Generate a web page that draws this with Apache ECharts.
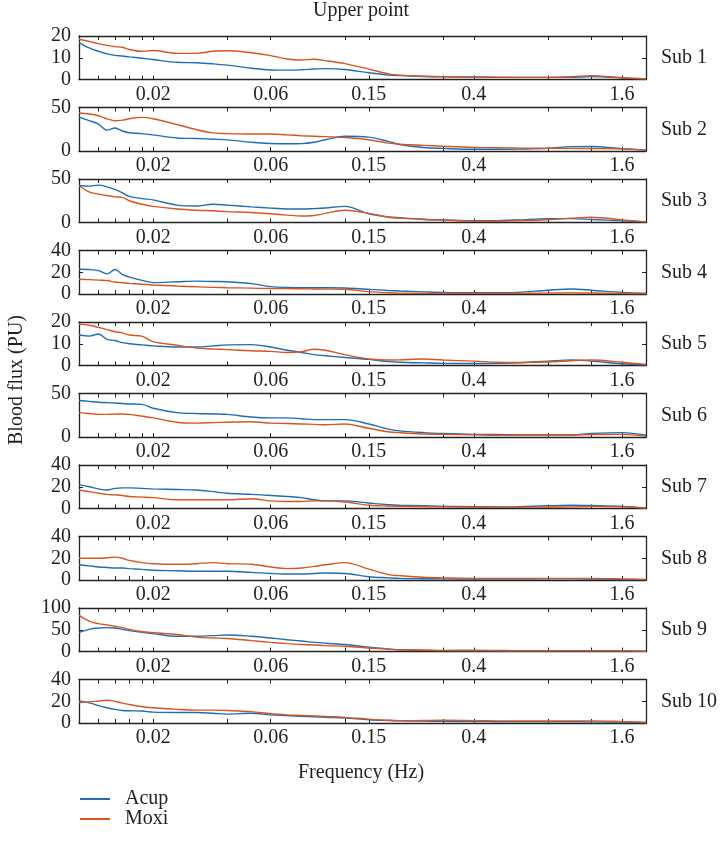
<!DOCTYPE html>
<html>
<head>
<meta charset="utf-8">
<script src="https://cdn.jsdelivr.net/npm/echarts@6/dist/echarts.min.js"></script>
<style>
html, body { margin: 0; padding: 0; background: #fff; }
#chart { width: 720px; height: 846px; }
</style>
</head>
<body>
<div id="chart"></div>
<script>
// frequency grid (Hz), shared by all subjects
var freq = [0.01, 0.011, 0.012, 0.013, 0.014, 0.015, 0.016, 0.018, 0.02, 0.025, 0.03, 0.035, 0.04, 0.05, 0.06, 0.07,
    0.08, 0.09, 0.1, 0.12, 0.15, 0.18, 0.2, 0.25, 0.3, 0.4, 0.5, 0.6, 0.8, 1.0, 1.2, 1.6, 2.0];
var majorTicks = [0.02, 0.06, 0.15, 0.4, 1.6];
var minorTicks = [0.012, 0.014, 0.016, 0.018, 0.04, 0.12, 0.3, 0.8, 1.2];
var subNames = ["Sub 1", "Sub 2", "Sub 3", "Sub 4", "Sub 5", "Sub 6", "Sub 7", "Sub 8", "Sub 9", "Sub 10"];
var yMax = [20, 50, 50, 40, 20, 50, 40, 40, 100, 40];
var yStep = [10, 50, 50, 20, 10, 50, 20, 20, 50, 20];

var acup1 = [17, 14.5, 13, 11.8, 11.1, 10.8, 10.4, 9.8, 9.2, 7.9, 7.7, 7.2, 6.6, 5.2, 4.4, 4.3, 4.5, 4.8, 5.0, 4.6, 3.1, 2.1, 1.8, 1.4, 1.2, 1.1, 1.0, 1.0, 1.0, 1.0, 1.3, 0.7, 0.3];
var moxi1 = [18.5, 17.5, 16.5, 15.7, 15.1, 14.8, 13.8, 13.0, 13.3, 12.0, 12.0, 13.0, 13.2, 12.3, 11.0, 9.4, 9.0, 9.3, 8.7, 7.3, 4.8, 2.6, 2.0, 1.5, 1.3, 1.2, 1.1, 1.0, 1.0, 1.3, 1.8, 0.8, 0.3];
var acup2 = [38.9, 35, 31, 24, 26.5, 23, 21, 20, 18.5, 15, 14.3, 13.5, 12.8, 10, 8.6, 8.3, 8.5, 10, 13, 17, 16, 11, 7.5, 4, 3, 2, 2, 2.2, 3, 5, 5.2, 2.6, 1];
var moxi2 = [43.7, 42.5, 40.5, 37, 34.8, 35.5, 37, 38.7, 37, 30.4, 24.5, 20.8, 20, 19.5, 19.6, 18.5, 17.6, 17, 16.5, 15.6, 13, 9, 7.8, 6.5, 5.5, 4.2, 3.8, 3.5, 3.2, 3, 2.8, 2.4, 1];
var acup3 = [42.6, 41.8, 43, 41, 38, 34, 30, 27.5, 26, 20, 19, 21, 20, 18, 16.5, 15.6, 15.5, 16, 16.7, 18.5, 10, 6.5, 5.5, 3.8, 3, 2, 2.2, 2.8, 4.4, 4.5, 3.5, 1.9, 0.7];
var moxi3 = [42.6, 35.2, 32.6, 31, 29.5, 28.9, 25, 21, 18.5, 15.5, 14.1, 13.5, 12.5, 11.5, 10, 8.5, 7.5, 8, 10.5, 14, 10.5, 6, 5, 3.5, 2.8, 1.6, 1.5, 2, 3.2, 5, 6, 3, 0.7];
var acup4 = [22.8, 22.5, 21.5, 18.5, 22.5, 18, 15.5, 12.5, 10.5, 11.2, 11.8, 11.5, 11.2, 9.5, 6.8, 6, 5.8, 5.8, 5.8, 5.5, 4.3, 3.2, 2.7, 2, 1.5, 1.2, 1.2, 1.5, 3.5, 4.6, 3.5, 1.5, 0.6];
var moxi4 = [13.5, 13.2, 12.8, 12.4, 11, 10.3, 9.8, 9, 8.3, 7.3, 6.6, 6.1, 5.8, 5.4, 5, 4.9, 4.8, 4.6, 4.5, 4.3, 2.2, 1.1, 0.8, 0.6, 0.6, 0.6, 0.6, 0.6, 0.8, 1.0, 0.9, 0.6, 0.4];
var acup5 = [14, 13.5, 14.5, 12, 11.5, 10.5, 10, 9.5, 9, 8.5, 8.5, 9, 9.5, 9.6, 8.5, 7, 6, 5, 4.5, 3.7, 2.8, 1.8, 1.5, 1.2, 1, 0.9, 1, 1.2, 2, 2.6, 2, 0.8, 0.3];
var moxi5 = [19, 18.5, 17.5, 16.5, 15.5, 15, 14, 13.5, 11, 9.3, 8, 7.6, 7.3, 6.8, 6.5, 6, 6.3, 7.5, 7, 5, 3, 2.5, 2.6, 3, 2.5, 2, 1.5, 1.4, 1.6, 2.2, 2.5, 1.5, 0.5];
var acup6 = [42, 41, 40, 39.5, 39, 38.5, 38, 37.5, 33, 28, 27, 26.5, 26, 23, 22, 22, 21, 20, 20, 20, 15, 9, 7, 5, 4, 3, 2.8, 2.5, 2.5, 2.5, 4, 5, 2];
var moxi6 = [28, 27, 26, 26, 26.3, 26.5, 26, 24, 22, 17, 16, 16.5, 17, 17.5, 16, 15.5, 15, 14.5, 14, 15, 10, 6, 5, 3.5, 3, 2.5, 2, 2, 2, 2, 2.8, 3, 1];
var acup7 = [22, 20, 18, 17, 18.5, 19, 19, 18.5, 18, 17.5, 17, 15.5, 14, 13, 12, 11, 10, 8, 7, 7, 5, 3.5, 3, 2.5, 2, 1.7, 1.5, 1.7, 2.5, 3, 2.7, 2, 0.5];
var moxi7 = [17, 15.5, 14, 13, 12.5, 12, 11, 10.5, 10, 8, 8, 8, 8, 9, 7, 6.5, 6.5, 7, 7, 6, 3, 2.3, 2, 1.8, 1.5, 1.2, 1, 1.1, 1.4, 1.5, 2, 1.5, 0.5];
var acup8 = [14, 13, 12, 11.5, 11, 11, 10.5, 9.8, 9, 8.5, 8, 8, 8, 7, 6, 5.5, 5.5, 6, 6.5, 6, 3, 2, 1.5, 1.2, 1, 0.8, 0.8, 0.8, 1, 1, 0.8, 0.5, 0.3];
var moxi8 = [20, 20, 20, 20.5, 21, 20, 18, 16, 15, 14.5, 15, 16, 15, 14.5, 12, 10.5, 11, 12.5, 14, 16, 10, 5, 4, 2.5, 2, 1.5, 1.5, 1.5, 1.5, 1.5, 1.5, 1, 0.5];
var acup9 = [44, 51, 54, 55, 54, 51, 48, 44, 41, 35, 35, 36.5, 38, 35, 31, 27, 24, 21, 19, 16, 10, 6, 4, 3, 2, 1.5, 1.2, 1, 1.2, 1.5, 1.3, 1, 0.5];
var moxi9 = [83, 70, 64, 61, 58, 55, 51, 46, 43, 39, 33, 31, 30, 25, 21, 18, 16, 15, 13.5, 12, 8, 5, 4, 3, 2.5, 3, 2.5, 2, 2, 2, 2, 2, 0.5];
var acup10 = [20.3, 18.5, 16, 14, 12.5, 11.5, 11.2, 11, 10, 9.7, 9.7, 9, 8.2, 9, 7.5, 6.8, 6.2, 5.8, 5.3, 4.5, 3, 2.3, 2, 1.8, 1.5, 1.3, 1.2, 1.2, 1.2, 1.2, 1, 0.8, 0.5];
var moxi10 = [18.8, 19.4, 20.2, 20.9, 20, 18.3, 17, 15, 14, 12.5, 11.8, 11.8, 11.5, 10.5, 8.5, 7.5, 7, 6.5, 6, 5.2, 3.6, 2.5, 2.2, 2.3, 2.5, 2.2, 2, 1.8, 1.8, 2, 2, 1.3, 0.5];

var acupAll = [acup1, acup2, acup3, acup4, acup5, acup6, acup7, acup8, acup9, acup10];
var moxiAll = [moxi1, moxi2, moxi3, moxi4, moxi5, moxi6, moxi7, moxi8, moxi9, moxi10];

var blue = "#1f6db5";
var orange = "#d9541e";
var axisColor = "#222";
var textColor = "#231f20";
var font = "Liberation Serif";
var fs = 20;

function lg(f) {
    return Math.log10(f);
}
function pairs(arr) {
    return freq.map(function (f, i) { return [lg(f), arr[i]]; });
}

var gridLeft = 79, gridWidth = 567, gridTop0 = 36, gridPitch = 71.5, gridHeight = 43.5;
var tickVals = majorTicks.concat(minorTicks).map(lg);
var labelVals = majorTicks.map(lg);

var grids = [], xAxes = [], yAxes = [], series = [], texts = [];
for (var i = 0; i < 10; i++) {
    var gTop = gridTop0 + i * gridPitch;
    grids.push({ left: gridLeft, width: gridWidth, top: gTop, height: gridHeight });
    // bottom x axis with labels
    xAxes.push({
        type: "value", gridIndex: i, position: "bottom", min: lg(0.01), max: lg(2),
        axisLine: { show: true, onZero: false, lineStyle: { color: axisColor, width: 1.3 } },
        axisTick: { show: true, inside: true, length: 4, customValues: tickVals, lineStyle: { color: axisColor, width: 1 } },
        axisLabel: {
            show: true, customValues: labelVals, margin: 5, color: textColor, fontFamily: font, fontSize: fs,
            formatter: function (v) { return String(Math.round(Math.pow(10, v) * 100) / 100); }
        },
        splitLine: { show: false }
    });
    // top x axis, box + mirrored ticks
    xAxes.push({
        type: "value", gridIndex: i, position: "top", min: lg(0.01), max: lg(2),
        axisLine: { show: true, onZero: false, lineStyle: { color: axisColor, width: 1.3 } },
        axisTick: { show: true, inside: true, length: 4, customValues: tickVals, lineStyle: { color: axisColor, width: 1 } },
        axisLabel: { show: false },
        splitLine: { show: false }
    });
    yAxes.push({
        type: "value", gridIndex: i, position: "left", min: 0, max: yMax[i], interval: yStep[i],
        axisLine: { show: true, onZero: false, lineStyle: { color: axisColor, width: 1.3 } },
        axisTick: { show: true, inside: true, length: 4, lineStyle: { color: axisColor, width: 1 } },
        axisLabel: { show: true, margin: 8, color: textColor, fontFamily: font, fontSize: fs },
        splitLine: { show: false }
    });
    yAxes.push({
        type: "value", gridIndex: i, position: "right", min: 0, max: yMax[i], interval: yStep[i],
        axisLine: { show: true, onZero: false, lineStyle: { color: axisColor, width: 1.3 } },
        axisTick: { show: true, inside: true, length: 4, lineStyle: { color: axisColor, width: 1 } },
        axisLabel: { show: false },
        splitLine: { show: false }
    });
    series.push({
        name: "Acup", type: "line", xAxisIndex: 2 * i, yAxisIndex: 2 * i, data: pairs(acupAll[i]),
        smooth: 0.35, showSymbol: false, symbol: "none", lineStyle: { color: blue, width: 1.4 }, itemStyle: { color: blue },
        animation: false, silent: true
    });
    series.push({
        name: "Moxi", type: "line", xAxisIndex: 2 * i, yAxisIndex: 2 * i, data: pairs(moxiAll[i]),
        smooth: 0.35, showSymbol: false, symbol: "none", lineStyle: { color: orange, width: 1.4 }, itemStyle: { color: orange },
        animation: false, silent: true
    });
    texts.push({
        type: "text", left: 661, top: gTop + gridHeight / 2 - 10,
        style: { text: subNames[i], fill: textColor, font: fs + "px '" + font + "'" }
    });
}

texts.push({
    type: "text", left: 313, top: 1,
    style: { text: "Upper point", fill: textColor, font: fs + "px '" + font + "'" }
});
texts.push({
    type: "text", left: 298, top: 763,
    style: { text: "Frequency (Hz)", fill: textColor, font: fs + "px '" + font + "'" }
});
texts.push({
    type: "text", x: 7, y: 380, rotation: Math.PI / 2,
    style: { text: "Blood flux (PU)", fill: textColor, font: fs + "px '" + font + "'", align: "center", verticalAlign: "top" }
});

var myChart = echarts.init(document.getElementById("chart"));
var option = {
    backgroundColor: "#fff",
    animation: false,
    grid: grids,
    xAxis: xAxes,
    yAxis: yAxes,
    series: series,
    legend: {
        data: ["Acup", "Moxi"], orient: "vertical", left: 80, top: 789, padding: 0, itemWidth: 30, itemHeight: 2, itemGap: 0,
        icon: "rect", textStyle: { color: textColor, fontFamily: font, fontSize: fs, padding: [0, 0, 0, 10] }
    },
    graphic: texts
};
myChart.setOption(option, true);
</script>
</body>
</html>
